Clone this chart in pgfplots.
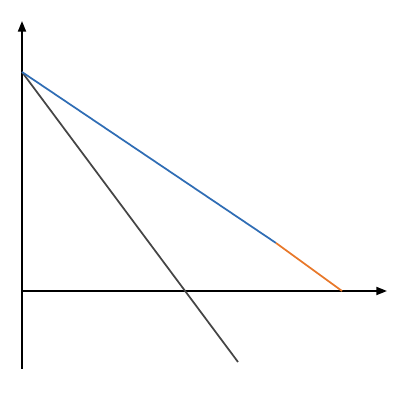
\documentclass[border=0pt]{standalone}
\usepackage{pgfplots}
\pgfplotsset{compat=1.18}
\usetikzlibrary{arrows.meta}
\definecolor{lblue}{HTML}{2F6DB5}
\definecolor{lorange}{HTML}{E8782A}
\definecolor{lgray}{HTML}{454545}
\begin{document}
\begin{tikzpicture}
\begin{axis}[
  scale only axis, width=300pt, height=300pt,
  xmin=-22, xmax=378, ymin=-109, ymax=291,
  axis lines=none, ticks=none, clip=false,
]
\path[fill=white] (axis cs:-22,-109) rectangle (axis cs:378,291);
\draw[line width=1.4pt, -{Triangle[length=8pt,width=6pt]}] (axis cs:0,-78) -- (axis cs:0,270);
\draw[line width=1.4pt, -{Triangle[length=8pt,width=6pt]}] (axis cs:0,0) -- (axis cs:365,0);
\addplot[lgray, line width=1.3pt] coordinates {(0,219) (216,-71)};
\addplot[lblue, line width=1.3pt] coordinates {(0,219) (254,48)};
\addplot[lorange, line width=1.3pt] coordinates {(254,48) (320,0)};
\end{axis}
\end{tikzpicture}
\end{document}
